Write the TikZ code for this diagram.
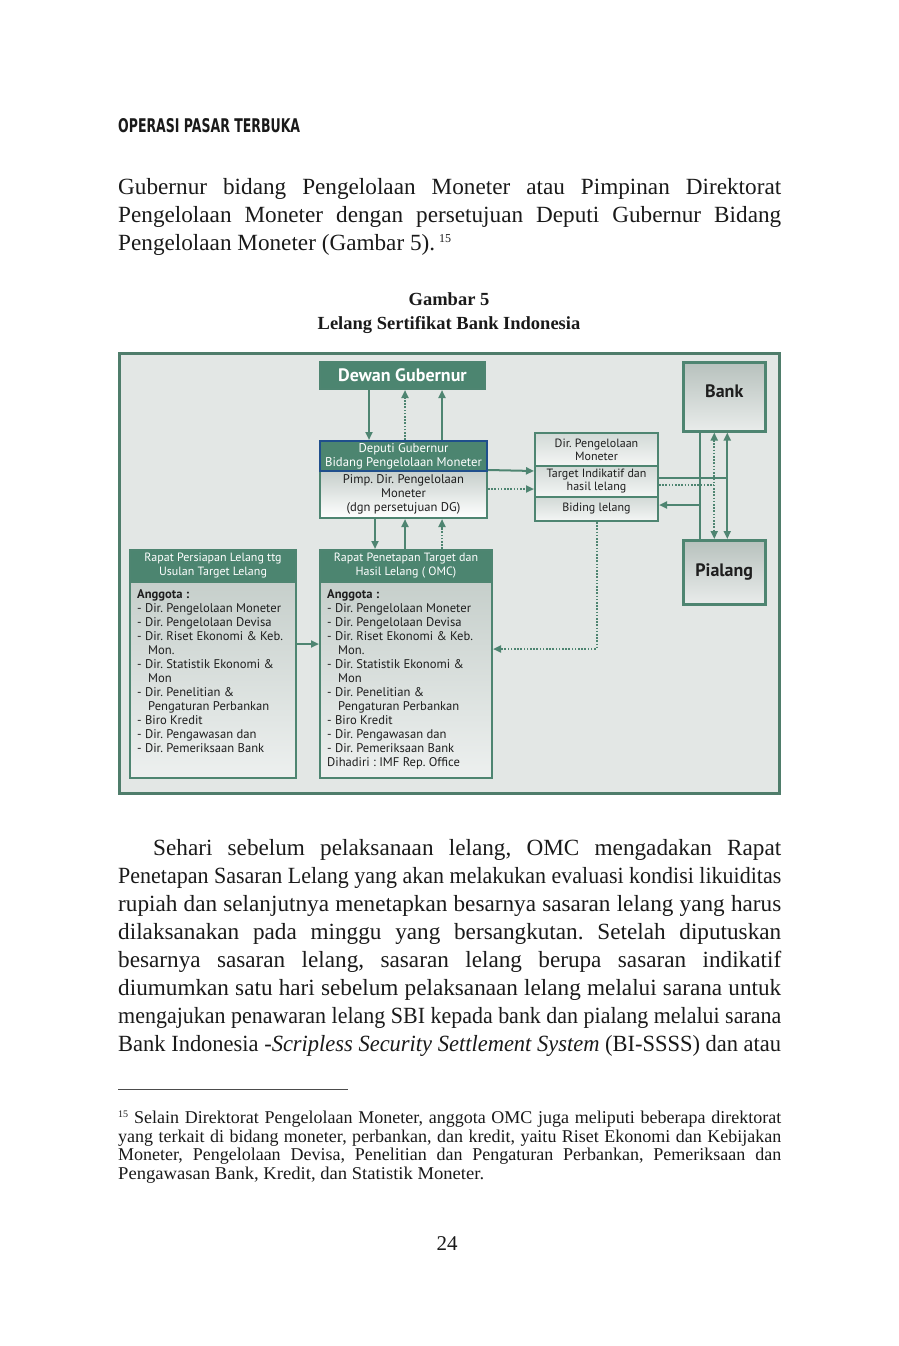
\documentclass[tikz,border=0pt]{standalone}
\usepackage{fontspec}
\usepackage{graphicx}
\setmainfont{Liberation Serif}
\newfontfamily\dsans{PT Sans}
\newfontfamily\hsans{DejaVu Sans}
\usetikzlibrary{arrows.meta}
\frenchspacing
\definecolor{gfill}{HTML}{4C8570}
\definecolor{gline}{HTML}{4E8571}
\definecolor{frameline}{HTML}{4F7D6B}
\definecolor{framefill}{HTML}{E3E7E5}
\definecolor{bodytop}{HTML}{C6CFCB}
\definecolor{bodybot}{HTML}{EDF0EF}
\definecolor{secttop}{HTML}{D2D9D6}
\definecolor{sectbot}{HTML}{F4F6F5}
\definecolor{banktop}{HTML}{B7C1BD}
\definecolor{bankbot}{HTML}{E9ECEB}
\definecolor{deepblue}{HTML}{1F4F8C}
\definecolor{dtext}{HTML}{1E1E1E}
\definecolor{ptext}{HTML}{1A1A1A}
\newsavebox\jbox
\newcommand\jline[2]{\sbox\jbox{#2}\ifdim\wd\jbox>#1\relax\resizebox{#1}{\height}{\usebox\jbox}\else\makebox[#1][s]{#2}\fi}
\tikzset{
  box/.style={draw=gline, line width=2pt, inner sep=0pt, anchor=north west},
  hdrbox/.style={box, fill=gfill, text=white, align=center,
    font=\dsans\fontsize{12}{14}\selectfont},
  bodybox/.style={box, top color=bodytop, bottom color=bodybot},
  sectbox/.style={box, top color=secttop, bottom color=sectbot, text=dtext, align=center,
    font=\dsans\fontsize{12}{13}\selectfont, minimum width=123pt},
  bpbox/.style={box, line width=2.5pt, top color=banktop, bottom color=bankbot, text=dtext,
    font=\dsans\bfseries\fontsize{18}{20}\selectfont, minimum width=82pt},
  listtext/.style={anchor=north west, inner sep=0pt, align=left, text=dtext,
    font=\dsans\fontsize{12.6}{14}\selectfont},
  conn/.style={draw=gline, line width=2pt},
  arr/.style={conn, -{Triangle[length=8pt,width=7pt]}},
  arrb/.style={conn, {Triangle[length=8pt,width=7pt]}-{Triangle[length=8pt,width=7pt]}},
  dotl/.style={dash pattern=on 1.6pt off 1.6pt},
  para/.style={anchor=base west, inner sep=0pt, text=ptext, font=\fontsize{23.2}{28}\selectfont},
  foot/.style={anchor=base west, inner sep=0pt, text=ptext, font=\fontsize{18}{18.7}\selectfont},
}
\begin{document}
\begin{tikzpicture}[x=1pt,y=-1pt]
\useasboundingbox[fill=white] (0,0) rectangle (898,1346);

% running header
\node[anchor=base west, inner sep=0pt, text=ptext] (hdr) at (118,132)
  {\resizebox{182pt}{14pt}{\hsans\bfseries OPERASI PASAR TERBUKA}};

% paragraph 1
\node[para] (p1a) at (118,194) {\jline{663pt}{Gubernur bidang Pengelolaan Moneter atau Pimpinan Direktorat}};
\node[para] (p1b) at (118,222) {\jline{663pt}{Pengelolaan Moneter dengan persetujuan Deputi Gubernur Bidang}};
\node[para] (p1c) at (118,250) {Pengelolaan Moneter (Gambar 5).\,{\fontsize{12}{14}\selectfont\raisebox{8pt}{15}}};

% caption
\node[anchor=base, inner sep=0pt, text=ptext, font=\bfseries\fontsize{18.5}{20}\selectfont] (cap1) at (449,305) {Gambar 5};
\node[anchor=base, inner sep=0pt, text=ptext, font=\bfseries\fontsize{18.5}{20}\selectfont] (cap2) at (449,329) {Lelang Sertifikat Bank Indonesia};

% frame
\node[anchor=north west, draw=frameline, line width=2.5pt, fill=framefill, inner sep=0pt,
  minimum width=660pt, minimum height=440pt] (frame) at (118,352) {};

% Dewan Gubernur
\node[box, fill=gfill, text=white, minimum width=165pt, minimum height=27pt,
  font=\dsans\bfseries\fontsize{18}{20}\selectfont] (dg) at (319,361) {Dewan Gubernur};

% Deputi
\node[box, top color=bodytop, bottom color=white, text=dtext, align=center,
  font=\dsans\fontsize{12.6}{14}\selectfont, minimum width=167pt, minimum height=47pt] (depB) at (319,470)
  {Pimp. Dir. Pengelolaan\\Moneter\\(dgn persetujuan DG)};
\node[hdrbox, draw=deepblue, minimum width=167pt, minimum height=30pt,
  font=\dsans\fontsize{12.7}{14}\selectfont] (depH) at (319,440)
  {Deputi Gubernur\\Bidang Pengelolaan Moneter};

% Dir box
\node[sectbox, minimum height=33pt] (dirA) at (534,432) {Dir. Pengelolaan\\Moneter};
\node[sectbox, minimum height=31pt] (dirB) at (534,465) {Target Indikatif dan\\hasil lelang};
\node[sectbox, minimum height=24pt] (dirC) at (534,496) {Biding lelang};

% Bank, Pialang
\node[bpbox, minimum height=69pt] (bank) at (682,361) {\raisebox{12pt}{Bank}};
\node[bpbox, minimum height=64pt] (pialang) at (682,539) {Pialang};

% Left box
\node[bodybox, minimum width=166pt, minimum height=196pt] (lB) at (129,581) {};
\node[hdrbox, minimum width=166pt, minimum height=32pt] (lH) at (129,549)
  {Rapat Persiapan Lelang ttg\\Usulan Target Lelang};
\node[listtext] (lT) at (137,588) {\rule{0pt}{10pt}\textbf{Anggota :}\\
- Dir. Pengelolaan Moneter\\
- Dir. Pengelolaan Devisa\\
- Dir. Riset Ekonomi \& Keb.\\
\hspace*{11pt}Mon.\\
- Dir. Statistik Ekonomi \&\\
\hspace*{11pt}Mon\\
- Dir. Penelitian \&\\
\hspace*{11pt}Pengaturan Perbankan\\
- Biro Kredit\\
- Dir. Pengawasan dan\\
- Dir. Pemeriksaan Bank};

% OMC box
\node[bodybox, minimum width=172pt, minimum height=196pt] (omcB) at (319,581) {};
\node[hdrbox, minimum width=172pt, minimum height=32pt] (omcH) at (319,549)
  {Rapat Penetapan Target dan\\Hasil Lelang ( OMC)};
\node[listtext] (omcT) at (327,588) {\rule{0pt}{10pt}\textbf{Anggota :}\\
- Dir. Pengelolaan Moneter\\
- Dir. Pengelolaan Devisa\\
- Dir. Riset Ekonomi \& Keb.\\
\hspace*{11pt}Mon.\\
- Dir. Statistik Ekonomi \&\\
\hspace*{11pt}Mon\\
- Dir. Penelitian \&\\
\hspace*{11pt}Pengaturan Perbankan\\
- Biro Kredit\\
- Dir. Pengawasan dan\\
- Dir. Pemeriksaan Bank\\
Dihadiri : IMF Rep. Office};

% connectors Dewan <-> Deputi
\draw[arr] ([xshift=-33.5pt]dg.south) -- ([xshift=-34.5pt]depH.north);
\draw[arr,dotl] ([xshift=1.5pt]depH.north) -- ([xshift=2.5pt]dg.south);
\draw[arr] ([xshift=38.5pt]depH.north) -- ([xshift=39.5pt]dg.south);
% Deputi <-> OMC
\draw[arr] ([xshift=-28.5pt]depB.south) -- ([xshift=-31pt]omcH.north);
\draw[arr] ([xshift=-1pt]omcH.north) -- ([xshift=1.5pt]depB.south);
\draw[arr,dotl] ([xshift=36pt]omcH.north) -- ([xshift=38.5pt]depB.south);
% Deputi -> Dir
\draw[arr] (depB.north east) -- ([yshift=10.5pt]dirB.west);
\draw[arr,dotl] ([yshift=5.5pt]depB.east) -- ([yshift=-7.5pt]dirB.west);
% Left -> OMC
\draw[arr] ([yshift=36pt]lB.east) -- ([yshift=36pt]omcB.west);
% Biding -> OMC
\draw[arr,dotl] (dirC.south) |- ([yshift=31pt]omcB.east);

% Bank / Pialang connectors
\coordinate (bx1) at ([xshift=-24pt]bank.south);
\coordinate (bx2) at ([xshift=-10pt]bank.south);
\coordinate (bx3) at ([xshift=3pt]bank.south);
\coordinate (c1) at ([yshift=4pt]dirC.east);
\coordinate (c2) at ([yshift=3.5pt]dirB.east);
\coordinate (c3) at ([yshift=-3.5pt]dirB.east);
\draw[conn] (bx1) -- (bx1 |- pialang.north);
\draw[arr] (bx1 |- c1) -- (c1);
\draw[conn] (c2) -- (bx3 |- c2);
\draw[arrb] (bx3) -- (bx3 |- pialang.north);
\draw[conn,dotl] (c3) -- (bx2 |- c3);
\draw[arrb,dotl] (bx2) -- (bx2 |- pialang.north);

% paragraph 2
\node[para] (p2a) at (153,855) {\jline{628pt}{Sehari sebelum pelaksanaan lelang, OMC mengadakan Rapat}};
\node[para] (p2b) at (118,883) {\jline{663pt}{Penetapan Sasaran Lelang yang akan melakukan evaluasi kondisi likuiditas}};
\node[para] (p2c) at (118,911) {\jline{663pt}{rupiah dan selanjutnya menetapkan besarnya sasaran lelang yang harus}};
\node[para] (p2d) at (118,939) {\jline{663pt}{dilaksanakan pada minggu yang bersangkutan. Setelah diputuskan}};
\node[para] (p2e) at (118,967) {\jline{663pt}{besarnya sasaran lelang, sasaran lelang berupa sasaran indikatif}};
\node[para] (p2f) at (118,995) {\jline{663pt}{diumumkan satu hari sebelum pelaksanaan lelang melalui sarana untuk}};
\node[para] (p2g) at (118,1023) {\jline{663pt}{mengajukan penawaran lelang SBI kepada bank dan pialang melalui sarana}};
\node[para] (p2h) at (118,1051) {\jline{663pt}{Bank Indonesia -\textit{Scripless Security Settlement System} (BI-SSSS) dan atau}};

% footnote
\draw[draw=black!70, line width=0.8pt] (118,1089) -- (348,1089);
\node[foot] (f1) at (118,1123) {\jline{663pt}{{\fontsize{10}{12}\selectfont\raisebox{6pt}{15}}\hspace{6pt}Selain Direktorat Pengelolaan Moneter, anggota OMC juga meliputi beberapa direktorat}};
\node[foot] (f2) at (118,1142) {\jline{663pt}{yang terkait di bidang moneter, perbankan, dan kredit, yaitu Riset Ekonomi dan Kebijakan}};
\node[foot] (f3) at (118,1160) {\jline{663pt}{Moneter, Pengelolaan Devisa, Penelitian dan Pengaturan Perbankan, Pemeriksaan dan}};
\node[foot] (f4) at (118,1179) {\resizebox{366pt}{\height}{Pengawasan Bank, Kredit, dan Statistik Moneter.}};

% page number
\node[anchor=base, inner sep=0pt, text=ptext, font=\fontsize{21}{28}\selectfont] (pg) at (447,1250) {24};
\end{tikzpicture}
\end{document}
